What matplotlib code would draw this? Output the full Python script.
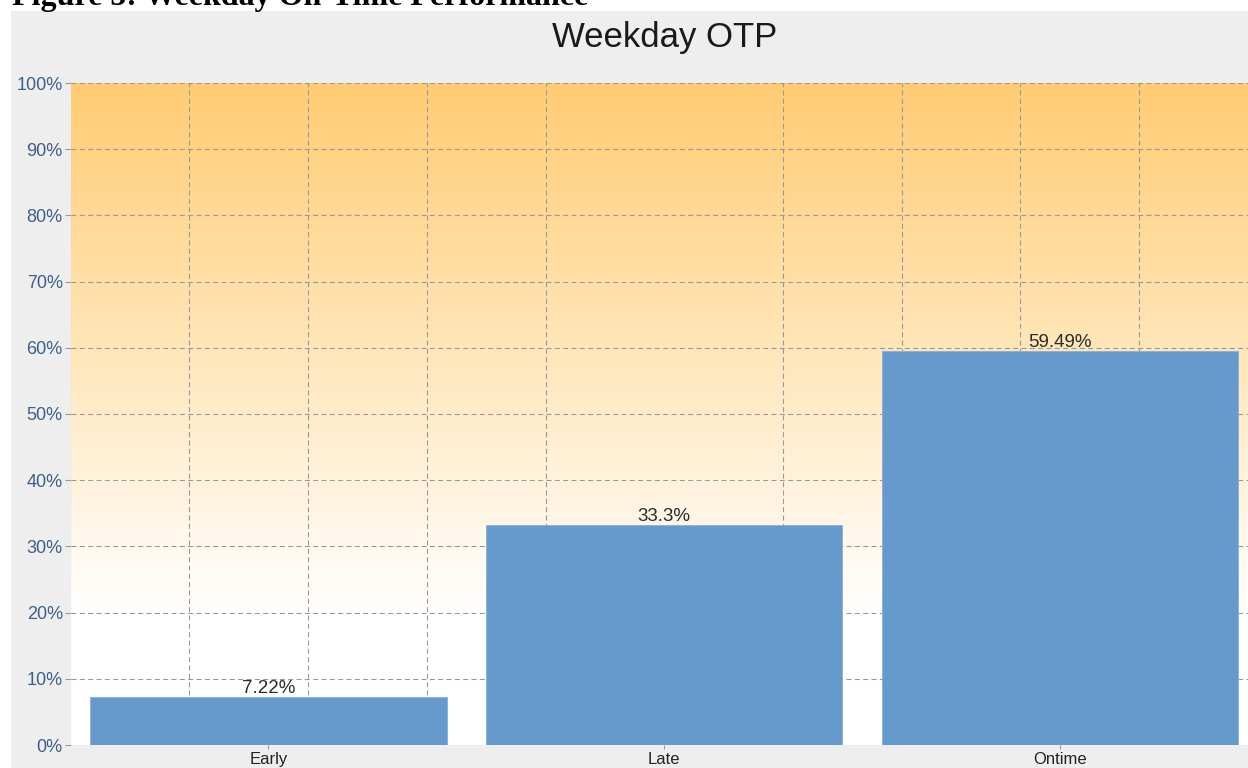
import matplotlib.pyplot as plt
import numpy as np
from matplotlib.patches import Rectangle

# data
categories = ['Early', 'Late', 'Ontime']
shares = [7.22, 33.3, 59.49]
y_ticks = list(range(0, 101, 10))

W, H = 1248, 768
fig = plt.figure(figsize=(W / 100, H / 100), dpi=100, facecolor='white')

# grey chart panel behind everything
fig.patches.append(Rectangle((11 / W, 0), 1 - 11 / W, 1 - 11 / H,
                             transform=fig.transFigure, facecolor='#eeeeee',
                             edgecolor='none', zorder=-10))

# document caption, mostly cut off at the top
fig.text(12 / W, 1 - 5 / H, 'Figure 5: Weekday On-Time Performance',
         fontfamily='Liberation Serif', fontweight='bold', fontsize=23,
         va='baseline', ha='left', color='black')

fig.text(664.5 / W, 1 - 47 / H, 'Weekday OTP', fontfamily='Liberation Sans',
         fontsize=25, va='baseline', ha='center', color='#1a1a1a')

left, right = 70.5 / W, 1258 / W
bottom, top = 1 - 745 / H, 1 - 83 / H
ax = fig.add_axes([left, bottom, right - left, top - bottom])
ax.set_xlim(-0.5, 2.5)
ax.set_ylim(0, 100)

# orange to white background gradient (white below 20%)
yy = np.linspace(0, 100, 400)
t = np.clip((yy - 20) / 80, 0, 1)[:, None]
top_col = np.array([255, 204, 115]) / 255.0
grad = (1 - t) * np.ones(3) + t * top_col
ax.imshow(grad[:, None, :], extent=[-0.5, 2.5, 0, 100], aspect='auto',
          origin='lower', zorder=0, interpolation='bilinear')
ax.set_facecolor('white')

x = np.arange(len(categories))
bars = ax.bar(x, shares, width=0.9, color='#6699cc', edgecolor='#8aaed6',
              linewidth=0.6, zorder=2)
for xi, v in zip(x, shares):
    ax.text(xi, v, f'{v:g}%', ha='center', va='bottom', fontsize=13.5,
            fontfamily='Liberation Sans', color='#2b2b2b', zorder=3)

ax.set_xticks(x)
ax.set_xticklabels(categories, fontfamily='Liberation Sans', fontsize=12,
                   color='#222222')
ax.set_xticks(-0.5 + 0.3 * np.arange(10), minor=True)
ax.set_yticks(y_ticks)
ax.set_yticklabels([f'{v}%' for v in y_ticks], fontfamily='Liberation Sans',
                   fontsize=13, color='#3d5f8a')

ax.tick_params(axis='y', length=4, width=0.8, color='#999999', pad=1.5)
ax.tick_params(axis='x', which='major', length=3, width=0.8,
               color='#999999', pad=2)
ax.tick_params(axis='x', which='minor', length=0)

ax.set_axisbelow(True)
ax.grid(axis='y', which='major', color='#999999', linestyle=(0, (4.5, 3)),
        linewidth=0.8)
ax.grid(axis='x', which='minor', color='#999999', linestyle=(0, (4.5, 3)),
        linewidth=0.8)
ax.grid(axis='x', which='major', visible=False)
for s in ax.spines.values():
    s.set_visible(False)

fig.savefig('out.png', dpi=100)
